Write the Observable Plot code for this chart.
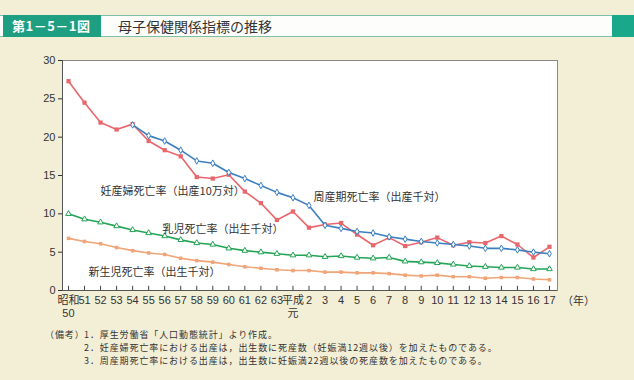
<!DOCTYPE html>
<html><head><meta charset="utf-8">
<script src="https://cdn.jsdelivr.net/npm/d3@7"></script>
<script src="https://cdn.jsdelivr.net/npm/@observablehq/plot@0.6"></script>
<style>
body{margin:0;background:#f3efd7;width:634px;height:380px;overflow:hidden;position:relative;font-family:"Noto Sans CJK JP","Noto Sans",sans-serif;}
#bar{position:absolute;left:0;top:15px;width:634px;height:22px;background:#fdfefc;border-top:1.5px solid #7cc2a9;border-bottom:1.5px solid #7cc2a9;box-sizing:border-box;}
#num{position:absolute;left:3px;top:15px;width:98px;height:22px;background:#1f9f82;color:#fff;font-weight:bold;font-size:13px;line-height:22px;padding-left:9px;box-sizing:border-box;letter-spacing:0.5px;}
#endb{position:absolute;left:612px;top:15px;width:22px;height:22px;background:#1aa88a;}
#ttl{position:absolute;left:118px;top:15px;height:22px;line-height:22px;font-size:14px;color:#333;}
#chart{position:absolute;left:0;top:0;}
#nen{position:absolute;left:562px;top:293px;font-size:11px;line-height:14px;color:#333;}
.note{position:absolute;font-size:9px;letter-spacing:0.9px;line-height:13.2px;color:#333;white-space:nowrap;}
</style></head><body>
<div id="bar"></div><div id="num">第1－5－1図</div><div id="endb"></div>
<div id="ttl">母子保健関係指標の推移</div>
<div id="chart"></div>
<div id="nen">（年）</div>
<div class="note" style="left:45px;top:328px">（備考）</div>
<div class="note" style="left:84px;top:328px">1．厚生労働省「人口動態統計」より作成。<br>2．妊産婦死亡率における出産は，出生数に死産数（妊娠満12週以後）を加えたものである。<br>3．周産期死亡率における出産は，出生数に妊娠満22週以後の死産数を加えたものである。</div>
<script>
const years = d3.range(1975, 2006);
const xTickLabels = ["昭和\n50","51","52","53","54","55","56","57","58","59","60","61","62","63","平成\n元","2","3","4","5","6","7","8","9","10","11","12","13","14","15","16","17"];
const maternal = [27.3,24.5,21.9,21.0,21.7,19.5,18.3,17.5,14.8,14.6,15.1,12.9,11.4,9.2,10.3,8.2,8.6,8.8,7.3,5.9,6.9,5.8,6.3,6.9,5.9,6.3,6.2,7.1,6.0,4.3,5.7];
const perinatalYears = d3.range(1979, 2006);
const perinatal = [21.6,20.2,19.5,18.3,16.9,16.6,15.4,14.6,13.7,12.8,12.1,11.1,8.5,8.1,7.7,7.5,7.0,6.7,6.4,6.2,6.0,5.8,5.5,5.5,5.3,5.0,4.8];
const infant = [10.0,9.3,8.9,8.4,7.9,7.5,7.1,6.6,6.2,6.0,5.5,5.2,5.0,4.8,4.6,4.6,4.4,4.5,4.3,4.2,4.3,3.8,3.7,3.6,3.4,3.2,3.1,3.0,3.0,2.8,2.8];
const neonatal = [6.8,6.4,6.1,5.6,5.2,4.9,4.7,4.2,3.9,3.7,3.4,3.1,2.9,2.7,2.6,2.6,2.4,2.4,2.3,2.3,2.2,2.0,1.9,2.0,1.8,1.8,1.6,1.7,1.7,1.5,1.4];
const seriesNames = ["妊産婦死亡率（出産10万対）","周産期死亡率（出産千対）","乳児死亡率（出生千対）","新生児死亡率（出生千対）"];
const labelX = [1977.0, 1990.28, 1980.86, 1976.25];
const labelY = [12.9, 12.1, 7.96, 2.35];
const colors = {red:"#e8676d", blue:"#3a7fc0", green:"#23a455", orange:"#f0a477"};

const mat = years.map((x,i)=>({x, y:maternal[i]}));
const per = perinatalYears.map((x,i)=>({x, y:perinatal[i]}));
const inf = years.map((x,i)=>({x, y:infant[i]}));
const neo = years.map((x,i)=>({x, y:neonatal[i]}));
const labels = seriesNames.map((t,i)=>({t, x:labelX[i], y:labelY[i]}));
const fmt = new Map(years.map((y,i)=>[y, xTickLabels[i]]));

const chart = Plot.plot({
  width: 634, height: 320,
  marginTop: 60, marginBottom: 30, marginLeft: 62, marginRight: 77,
  style: {background: "transparent", fontFamily: "'Liberation Sans','Noto Sans CJK JP',sans-serif", fontSize: "11px", color:"#333"},
  x: {domain: [1974.626, 2005.5]},
  y: {domain: [0, 30]},
  marks: [
    Plot.rect([0], {x1: 1974.626, x2: 2005.5, y1: 0, y2: 30, fill: "#fff"}),
    Plot.frame({stroke: "#8a8a8a"}),
    Plot.ruleX(years, {x: d=>d, y1: 0, y2: 0.55, stroke: "#444"}),
    Plot.axisX({ticks: years, tickSize: 0, tickPadding: 5, tickFormat: d=>fmt.get(d), fontSize: 11, lineHeight: 1.15, label: null}),
    Plot.axisY({ticks: d3.range(0,31,5), tickSize: 4, tickPadding: 3, label: null, fontSize: 11}),
    Plot.ruleX([1974.626], {y1: 0, y2: 30, stroke: "#555"}),
    Plot.ruleY([0], {stroke: "#555"}),
    Plot.line(neo, {x:"x", y:"y", stroke: colors.orange, strokeWidth: 1.6}),
    Plot.dot(neo, {x:"x", y:"y", symbol:"square", r: 2.0, fill: colors.orange}),
    Plot.line(inf, {x:"x", y:"y", stroke: colors.green, strokeWidth: 1.6}),
    Plot.dot(inf, {x:"x", y:"y", symbol:"triangle", r: 2.1, fill: "#fff", stroke: colors.green, strokeWidth: 1}),
    Plot.line(mat, {x:"x", y:"y", stroke: colors.red, strokeWidth: 1.6}),
    Plot.dot(mat, {x:"x", y:"y", symbol:"square", r: 2.4, fill: colors.red}),
    Plot.line(per, {x:"x", y:"y", stroke: colors.blue, strokeWidth: 1.6}),
    Plot.dot(per, {x:"x", y:"y", symbol:"diamond", r: 2.0, fill: "#fff", stroke: colors.blue, strokeWidth: 1}),
    Plot.text(labels, {x:"x", y:"y", text:"t", textAnchor:"start", fontSize: 11, fill:"#333", fontFamily:"'Noto Sans CJK JP',sans-serif"})
  ]
});
document.getElementById("chart").appendChild(chart);
</script>
</body></html>
